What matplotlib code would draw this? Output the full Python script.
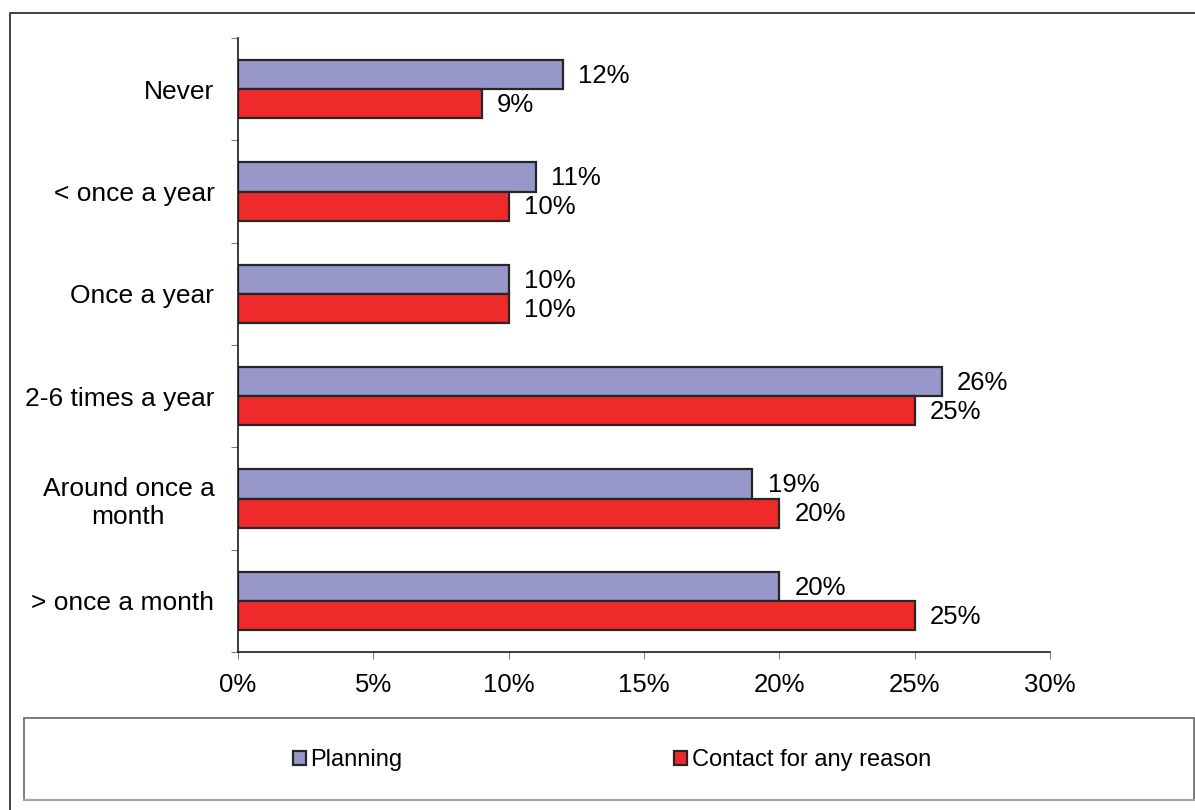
import numpy as np
import matplotlib
matplotlib.use("Agg")
import matplotlib.pyplot as plt
from matplotlib.lines import Line2D
from matplotlib.patches import Rectangle
from matplotlib.ticker import FuncFormatter

categories = ["Never", "< once a year", "Once a year", "2-6 times a year",
              "Around once a\nmonth", "> once a month"]
planning = [12, 11, 10, 26, 19, 20]
contact = [9, 10, 10, 25, 20, 25]
series_names = ["Planning", "Contact for any reason"]
xticks = [0, 5, 10, 15, 20, 25, 30]

purple = "#9797c9"
red = "#ee2a2a"
edge = "#262626"

plt.rcParams['font.family'] = ['Liberation Sans', 'DejaVu Sans']

fig = plt.figure(figsize=(11.95, 8.10), dpi=100)
ax = fig.add_axes([238 / 1195, 1 - 652 / 810, 812 / 1195, 614 / 810])

y = np.arange(len(categories))
h = 0.285
b1 = ax.barh(y - h / 2, planning, height=h, color=purple, edgecolor=edge,
             linewidth=1.6, label=series_names[0])
b2 = ax.barh(y + h / 2, contact, height=h, color=red, edgecolor=edge,
             linewidth=1.6, label=series_names[1])

for bars, vals in [(b1, planning), (b2, contact)]:
    for bar, v in zip(bars, vals):
        ax.annotate(f"{v}%", (v, bar.get_y() + bar.get_height() / 2),
                    xytext=(11, -1), textcoords="offset points",
                    ha="left", va="center", fontsize=18.5)

ax.set_xlim(0, 30)
ax.set_ylim(len(categories) - 0.5, -0.5)
ax.set_xticks(xticks)
ax.xaxis.set_major_formatter(FuncFormatter(lambda v, p: f"{v:.0f}%"))
ax.tick_params(axis="x", labelsize=18.5, length=5, color="#808080", pad=10)

ax.set_yticks(np.arange(len(categories) + 1) - 0.5)
ax.set_yticklabels([])
ax.tick_params(axis="y", which="major", length=5, color="#808080")
ax.set_yticks(y, minor=True)
ax.set_yticklabels(categories, minor=True, fontsize=19, multialignment="center")
ax.tick_params(axis="y", which="minor", length=0, pad=17)
for lab in ax.get_yticklabels(minor=True):
    lab.set_y(lab.get_position()[1])

for s in ["top", "right"]:
    ax.spines[s].set_visible(False)
for s in ["left", "bottom"]:
    ax.spines[s].set_color("#1a1a1a")
    ax.spines[s].set_linewidth(1.2)

# outer frame: only left and top edges visible
fig.lines.append(Line2D([10 / 1195, 10 / 1195, 1.0], [0.0, 1 - 13 / 810, 1 - 13 / 810],
                        transform=fig.transFigure, color="#333333", linewidth=1.3))
# legend box
fig.patches.append(Rectangle((24 / 1195, 10 / 810), 1170 / 1195, 82 / 810,
                             transform=fig.transFigure, fill=False,
                             edgecolor="#666666", linewidth=1.2))
fig.lines.append(Line2D([24 / 1195, 1194 / 1195], [10 / 810, 10 / 810],
                        transform=fig.transFigure, color="#aaaaaa", linewidth=1.6))

leg = fig.legend(handles=[b1, b2], loc="center", ncol=2,
                 bbox_to_anchor=(612 / 1195, 1 - 760 / 810), frameon=False,
                 fontsize=17, handlelength=0.55, handleheight=0.55,
                 handletextpad=0.2, columnspacing=11.5)

fig.savefig("out.png", dpi=100)
